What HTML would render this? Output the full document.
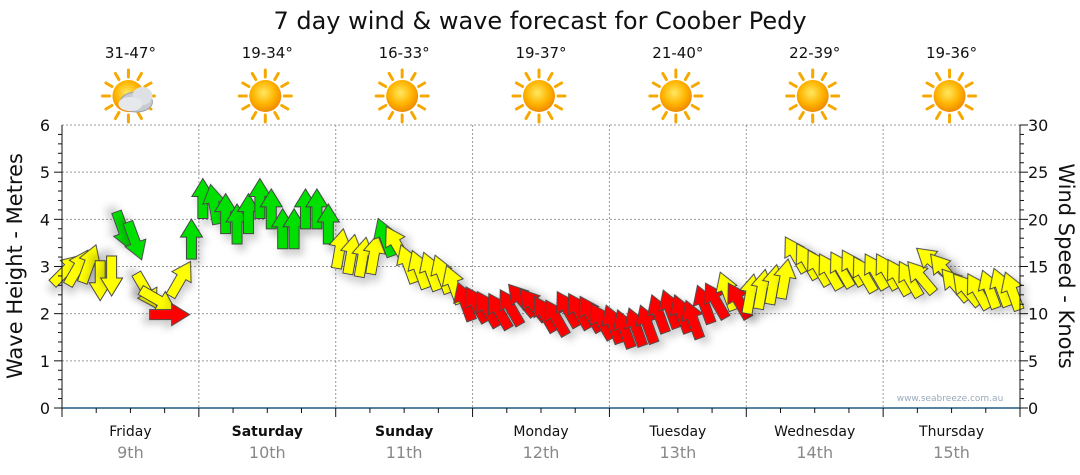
<!DOCTYPE html>
<html><head><meta charset="utf-8">
<style>
html,body{margin:0;padding:0;background:#fff;}
svg{display:block;font-family:"DejaVu Sans","Liberation Sans",sans-serif;}
</style></head>
<body>
<svg id="chart" width="1080" height="475" viewBox="0 0 1080 475">
<defs>
<filter id="sh" x="-50%" y="-50%" width="200%" height="200%">
<feDropShadow dx="4" dy="6" stdDeviation="4" flood-color="#000" flood-opacity="0.2"/>
</filter>
<radialGradient id="sun" cx="45%" cy="40%" r="60%">
<stop offset="0" stop-color="#ffe860"/><stop offset="0.6" stop-color="#ffb400"/><stop offset="1" stop-color="#f08a00"/>
</radialGradient>
</defs>
<text x="540" y="29" text-anchor="middle" font-size="24" fill="#111">7 day wind &amp; wave forecast for Coober Pedy</text>
<g id="header"></g>
<g id="grid"></g>
<g id="arrows"></g>
<g id="axes"></g>
<text x="950" y="401" text-anchor="middle" font-size="9" fill="#9ab">www.seabreeze.com.au</text>
<text transform="translate(22,266) rotate(-90)" text-anchor="middle" font-size="21" fill="#111">Wave Height - Metres</text>
<text transform="translate(1059,266) rotate(90)" text-anchor="middle" font-size="21" fill="#111">Wind Speed - Knots</text>
</svg>
<script>
const days = ["Friday","Saturday","Sunday","Monday","Tuesday","Wednesday","Thursday"];
const dates = ["9th","10th","11th","12th","13th","14th","15th"];
const boldDays = [false,true,true,false,false,false,false];
const temps = ["31-47°","19-34°","16-33°","19-37°","21-40°","22-39°","19-36°"];
const waveTicks = [0,1,2,3,4,5,6];
const windTicks = [0,5,10,15,20,25,30];
const windSpeed = [14.6,14.8,15.2,13.6,14.1,18.9,17.8,12.5,11.5,9.9,13.6,17.8,
22.1,21.5,20.5,19.4,20.5,22.1,21.0,18.9,18.9,21.0,21.0,19.4,
16.8,16.2,15.9,16.2,18.0,17.3,15.2,14.6,14.4,14.1,13.0,11.2,
10.9,10.4,10.2,10.6,11.4,10.9,9.9,9.5,10.4,10.2,9.9,9.1,
8.8,8.3,8.5,8.8,9.9,10.4,9.9,9.3,10.9,11.3,12.3,11.3,
12.0,12.5,13.0,13.6,16.2,15.5,14.8,14.4,14.6,14.8,14.1,14.4,
14.4,13.8,13.6,13.8,15.5,14.6,13.0,12.5,12.3,12.5,12.7,12.3];
const windDir = [45,30,20,180,180,160,160,150,120,90,30,0,
0,350,0,0,0,0,0,0,0,0,0,0,
10,10,10,10,340,330,340,340,340,340,340,340,
330,330,330,330,320,320,330,330,330,330,330,330,
340,340,340,340,340,340,340,340,340,330,340,330,
10,10,10,10,330,330,330,330,330,330,330,330,
330,330,330,320,310,320,320,320,330,340,340,340];

const NS="http://www.w3.org/2000/svg";
const X0=62,X1=1020,Y0=408,Y1=125,DW=(X1-X0)/7;
const yW=v=>Y0-(v/6)*(Y0-Y1);
const yK=v=>Y0-(v/30)*(Y0-Y1);
const xT=i=>X0+4+i*DW/12;
function mk(tag,attrs,parent,txt){const e=document.createElementNS(NS,tag);for(const k in attrs)e.setAttribute(k,attrs[k]);if(txt!==undefined)e.textContent=txt;parent.appendChild(e);return e;}
const grid=document.getElementById('grid'),axes=document.getElementById('axes'),hdr=document.getElementById('header'),ar=document.getElementById('arrows');

days.forEach((d,i)=>{
  const cx=X0+DW*(i+0.5);
  const t=mk('text',{x:cx,y:58,'text-anchor':'middle','font-size':15,fill:'#111'},hdr,temps[i]);
  
  
  const g=mk('g',{transform:`translate(${cx-2},96)`},hdr);
  
  
  for(let k=0;k<12;k++){const a=k*Math.PI/6;mk('line',{x1:Math.cos(a)*19,y1:Math.sin(a)*19,x2:Math.cos(a)*26,y2:Math.sin(a)*26,stroke:'#f5a800','stroke-width':3,'stroke-linecap':'round'},g);}
  mk('circle',{r:16,fill:'url(#sun)'},g);
  if(i===0){
    mk('ellipse',{cx:8,cy:6,rx:16,ry:10,fill:'#c8ccd2',stroke:'#9aa0a8'},g);
    mk('ellipse',{cx:14,cy:0,rx:10,ry:9,fill:'#dde0e4'},g);
    mk('ellipse',{cx:2,cy:8,rx:12,ry:7,fill:'#e6e8eb'},g);
  }
});

waveTicks.forEach(v=>{
  if(v>0){const l=mk('line',{x1:X0,x2:X1,y1:yW(v),y2:yW(v),stroke:'#999','stroke-dasharray':'2,2','stroke-width':1},grid);
  }
  const t=mk('text',{x:50,y:yW(v)+6,'text-anchor':'end','font-size':16,fill:'#111'},axes,String(v));
  
});
for(let v=0;v<=6;v+=0.2){mk('line',{x1:X0-(Math.abs(v-Math.round(v))<0.01?8:4),x2:X0,y1:yW(v),y2:yW(v),stroke:'#111'},axes);}
windTicks.forEach(v=>{
  const t=mk('text',{x:1028,y:yK(v)+6,'font-size':16,fill:'#111'},axes,String(v));
  
});
for(let v=0;v<=30;v+=1){mk('line',{x1:X1,x2:X1+(v%5===0?8:4),y1:yK(v),y2:yK(v),stroke:'#111'},axes);}
mk('line',{x1:X0,x2:X0,y1:Y1,y2:Y0,stroke:'#111'},axes);
mk('line',{x1:X1,x2:X1,y1:Y1,y2:Y0,stroke:'#111'},axes);
for(let i=1;i<7;i++){const l=mk('line',{x1:X0+DW*i,x2:X0+DW*i,y1:Y1,y2:Y0,stroke:'#999','stroke-dasharray':'2,2'},grid);
  }
const xa=mk('line',{x1:X0,x2:X1,y1:Y0,y2:Y0,stroke:'#1f5a80','stroke-width':1.5},axes);

for(let i=0;i<=28;i++){mk('line',{x1:X0+DW*i/4,x2:X0+DW*i/4,y1:Y0,y2:Y0+(i%4===0?9:5),stroke:'#111'},axes);}
days.forEach((d,i)=>{
  const cx=X0+DW*(i+0.5);
  const t=mk('text',{x:cx,y:436,'text-anchor':'middle','font-size':14,fill:'#111','font-weight':boldDays[i]?'bold':'normal'},axes,d);
  
  const t2=mk('text',{x:cx,y:458,'text-anchor':'middle','font-size':16,fill:'#888'},axes,dates[i]);
  
});

windSpeed.forEach((k,i)=>{
  const col=k<11.5?'#ff0000':(k>=17.5?'#00e000':'#ffff00');
  const p=mk('path',{d:'M0,-21 L11,-3 L5,-3 L5,19 L-5,19 L-5,-3 L-11,-3 Z',fill:col,stroke:'#444','stroke-width':1,filter:'url(#sh)',transform:`translate(${xT(i)},${yK(k)}) rotate(${windDir[i]})`},ar);
  
  
});
</script>
</body></html>
